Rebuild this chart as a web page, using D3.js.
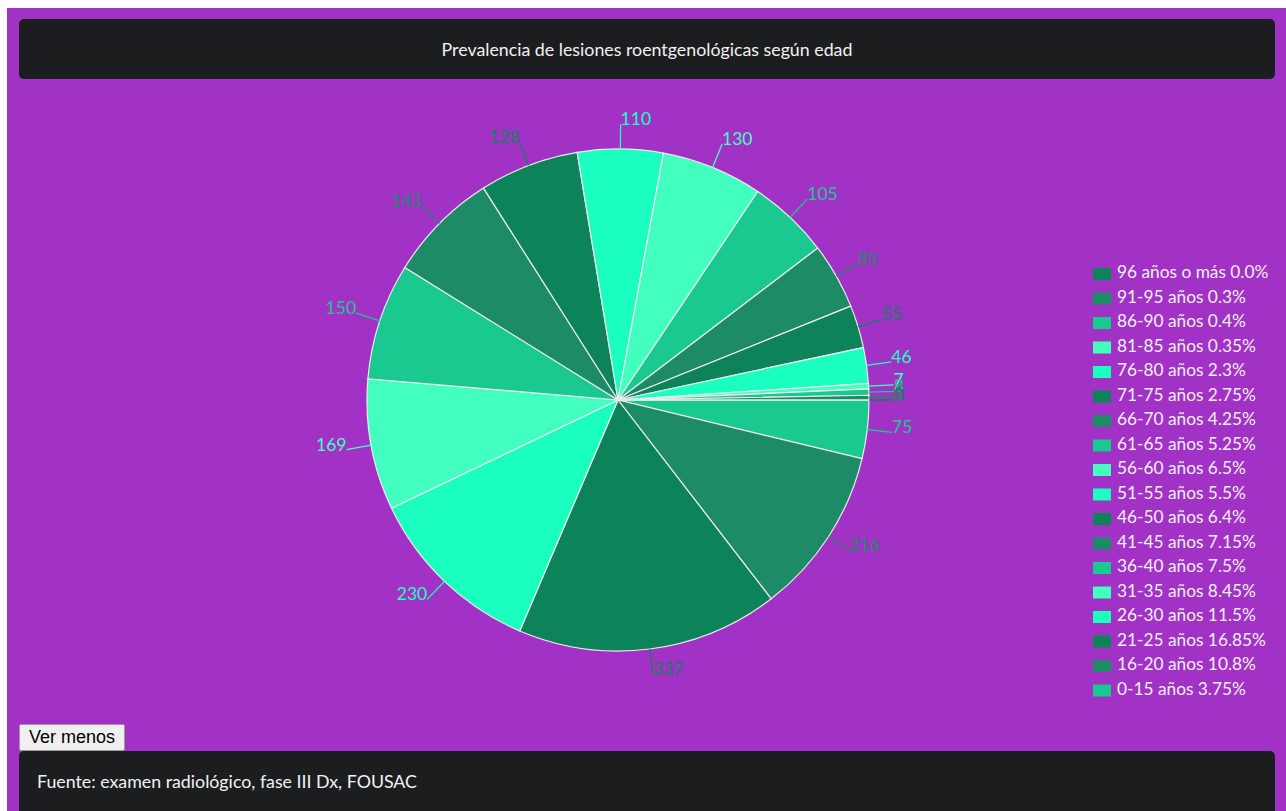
<!DOCTYPE html>
<html lang="es">
<head>
<meta charset="utf-8">
<script src="https://cdn.jsdelivr.net/npm/d3@7"></script>
<style>
  html, body { margin: 0; padding: 0; background: #ffffff; }
  body { width: 1286px; height: 811px; overflow: hidden; position: relative; font-family: Lato, "Open Sans", sans-serif; }
  #panel { position: absolute; left: 7px; top: 8px; width: 1279px; height: 803px; background: #a232c6; }
  .bar { position: absolute; left: 12px; width: 1256px; background: #1c1d1f; border-radius: 5px; color: #f2f2f2; font-family: Lato, sans-serif; font-size: 17.8px; }
  #title { top: 11px; height: 60px; line-height: 60px; text-align: center; }
  #source { top: 743px; height: 70px; padding-left: 18px; box-sizing: border-box; line-height: 18px; padding-top: 21px; }
  #toggle { position: absolute; left: 12px; top: 716px; width: 106px; height: 27px; padding: 0; font-family: Arial, "Liberation Sans", sans-serif; font-size: 18px; color: #000; background: #efefef; border: 1px solid #9a9a9a; border-radius: 2px; }
  svg { position: absolute; left: 0; top: 0; }
</style>
</head>
<body>
<div id="panel">
  <div id="title" class="bar">Prevalencia de lesiones roentgenológicas según edad</div>
  <button id="toggle">Ver menos</button>
  <div id="source" class="bar">Fuente: examen radiológico, fase III Dx, FOUSAC</div>
</div>
<svg id="chart" width="1286" height="811"></svg>
<script>
// Age groups and the number of patients with lesions in each
const ageGroups = ["0-15 años", "16-20 años", "21-25 años", "26-30 años", "31-35 años",
  "36-40 años", "41-45 años", "46-50 años", "51-55 años", "56-60 años", "61-65 años",
  "66-70 años", "71-75 años", "76-80 años", "81-85 años", "86-90 años", "91-95 años",
  "96 años o más"];
const counts = [75, 216, 337, 230, 169, 150, 143, 128, 110, 130, 105, 85, 55, 46, 7, 8, 6, 0];
const percentLabels = ["3.75%", "10.8%", "16.85%", "11.5%", "8.45%", "7.5%", "7.15%", "6.4%",
  "5.5%", "6.5%", "5.25%", "4.25%", "2.75%", "2.3%", "0.35%", "0.4%", "0.3%", "0.0%"];
const palette = ["#19c98f", "#1d8c66", "#0d8359", "#1affbf", "#42ffbf"];

const data = ageGroups.map((g, i) => ({ group: g, value: counts[i], pct: percentLabels[i], idx: i }));

const svg = d3.select("#chart");
const cx = 618, cy = 400, radius = 251, labelGap = 25;

const color = d3.scaleOrdinal().domain(d3.range(data.length)).range(palette);

const pie = d3.pie()
  .sort(null)
  .value(d => d.value)
  .startAngle(Math.PI / 2)
  .endAngle(Math.PI / 2 + 2 * Math.PI);

const arc = d3.arc().innerRadius(0).outerRadius(radius);
const arcs = pie(data);

const g = svg.append("g").attr("transform", `translate(${cx},${cy})`);

g.selectAll("path.slice")
  .data(arcs)
  .join("path")
  .attr("class", "slice")
  .attr("d", arc)
  .attr("fill", d => color(d.data.idx))
  .attr("stroke", "#ececec")
  .attr("stroke-width", 1.2);

// value labels with short radial leader lines
const pointAt = (a, r) => [Math.sin(a) * r, -Math.cos(a) * r];

const labels = g.selectAll("g.lbl")
  .data(arcs)
  .join("g")
  .attr("class", "lbl");

labels.append("line")
  .each(function (d) {
    const mid = (d.startAngle + d.endAngle) / 2;
    const [x1, y1] = pointAt(mid, radius);
    const [x2, y2] = pointAt(mid, radius + labelGap);
    d3.select(this).attr("x1", x1).attr("y1", y1).attr("x2", x2).attr("y2", y2);
  })
  .attr("stroke", d => color(d.data.idx))
  .attr("stroke-width", 1.3);

labels.append("text")
  .each(function (d) {
    const mid = (d.startAngle + d.endAngle) / 2;
    const [x, y] = pointAt(mid, radius + labelGap);
    d3.select(this)
      .attr("x", x)
      .attr("y", y + 1)
      .attr("text-anchor", Math.sin(mid) >= 0 ? "start" : "end");
  })
  .attr("fill", d => color(d.data.idx))
  .style("font-family", "Lato, sans-serif")
  .style("font-size", "17.5px")
  .text(d => d.data.value);

// legend, oldest group first
const legendData = data.slice().reverse();
const ly = d3.scalePoint().domain(legendData.map(d => d.group)).range([278, 694.5]);

const legend = svg.append("g").attr("class", "legend");
const rows = legend.selectAll("g")
  .data(legendData)
  .join("g")
  .attr("transform", d => `translate(1093,${ly(d.group)})`);

rows.append("rect")
  .attr("x", 0).attr("y", -10)
  .attr("width", 18).attr("height", 12)
  .attr("fill", d => color(d.idx));

rows.append("text")
  .attr("x", 24).attr("y", 0)
  .attr("fill", "#f4f0f6")
  .style("font-family", "Lato, sans-serif")
  .style("font-size", "17.3px")
  .text(d => `${d.group} ${d.pct}`);
</script>
</body>
</html>
